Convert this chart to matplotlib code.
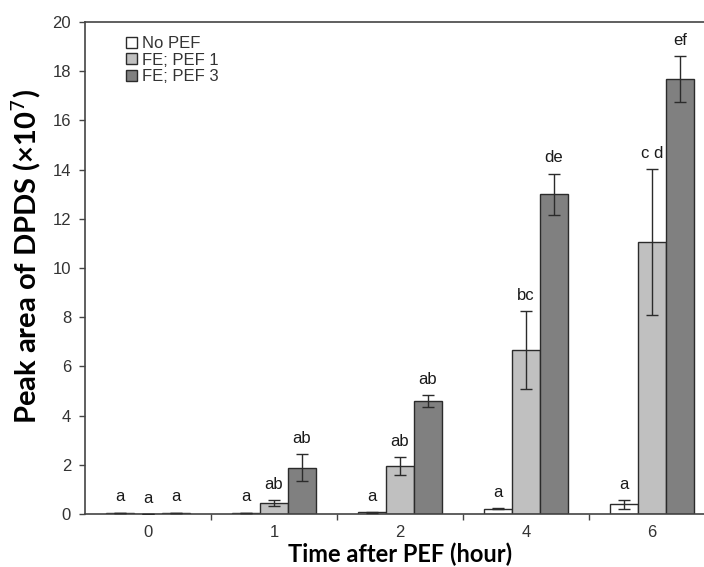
import matplotlib.pyplot as plt
import numpy as np

# data
groups = ["0", "1", "2", "4", "6"]
series = ["No PEF", "FE; PEF 1", "FE; PEF 3"]

no_pef = [0.05, 0.05, 0.07, 0.22, 0.39]
pef1 = [0.01, 0.46, 1.95, 6.67, 11.04]
pef3 = [0.05, 1.88, 4.59, 13.0, 17.68]

no_pef_err = [0.01, 0.01, 0.02, 0.03, 0.17]
pef1_err = [0.0, 0.12, 0.38, 1.57, 2.97]
pef3_err = [0.01, 0.54, 0.25, 0.84, 0.93]

no_pef_lbl = ["a", "a", "a", "a", "a"]
pef1_lbl = ["a", "ab", "ab", "bc", "c d"]
pef3_lbl = ["a", "ab", "ab", "de", "ef"]

colors = ["#ffffff", "#c0c0c0", "#808080"]

fig = plt.figure(figsize=(7.04, 5.67), dpi=100)
ax = fig.add_axes([85 / 704, 53 / 567, 619 / 704, 492 / 567])

x = np.arange(len(groups))
w = 0.222
vals = [no_pef, pef1, pef3]
errs = [no_pef_err, pef1_err, pef3_err]
lbls = [no_pef_lbl, pef1_lbl, pef3_lbl]

for i in range(3):
    xs = x + (i - 1) * w
    ax.bar(xs, vals[i], w, color=colors[i], edgecolor="#2b2b2b", linewidth=1.0,
           label=series[i], zorder=2)
    ax.errorbar(xs, vals[i], yerr=errs[i], fmt="none", ecolor="#2b2b2b",
                elinewidth=1.0, capsize=4, capthick=1.0, zorder=3)
    # significance letters above the error bars
    for xx, v, e, t in zip(xs, vals[i], errs[i], lbls[i]):
        ax.text(xx, v + e + 0.45, t, ha="center", va="baseline",
                fontsize=12, family="Liberation Sans", color="#1a1a1a")

ax.set_xlim(-0.5, -0.5 + 619 / 126)
ax.set_ylim(0, 20)
ax.set_yticks(np.arange(0, 21, 2))
ax.set_xticks(x)
ax.set_xticklabels(groups)
ax.set_xticks(x[:-1] + 0.5, minor=True)
ax.tick_params(axis="x", which="major", length=0, pad=8)
ax.tick_params(axis="x", which="minor", length=4, width=1, color="#444444")
ax.tick_params(axis="y", length=4, width=1, color="#444444", pad=6)
for lab in ax.get_xticklabels() + ax.get_yticklabels():
    lab.set_family("Liberation Sans")
    lab.set_fontsize(12)
    lab.set_color("#333333")

ax.spines["right"].set_visible(False)
for s in ["left", "top", "bottom"]:
    ax.spines[s].set_color("#444444")
    ax.spines[s].set_linewidth(1.2)

ax.set_xlabel("Time after PEF (hour)", fontsize=17, fontweight="bold",
              family="Lato")
ax.set_ylabel("Peak area of DPDS (\u00d710$^{7}$)", fontsize=21,
              fontweight="bold", family="Lato")
ax.xaxis.set_label_coords(0.509, -0.057)
ax.yaxis.set_label_coords(-0.068, 0.524)

leg = ax.legend(loc="upper left", bbox_to_anchor=(0.055, 0.985), frameon=False,
                handlelength=0.65, handleheight=0.65, handletextpad=0.3,
                labelspacing=0.1, borderaxespad=0,
                prop={"family": "Liberation Sans", "size": 12})
for t in leg.get_texts():
    t.set_color("#333333")

fig.savefig("out.png", dpi=100)
